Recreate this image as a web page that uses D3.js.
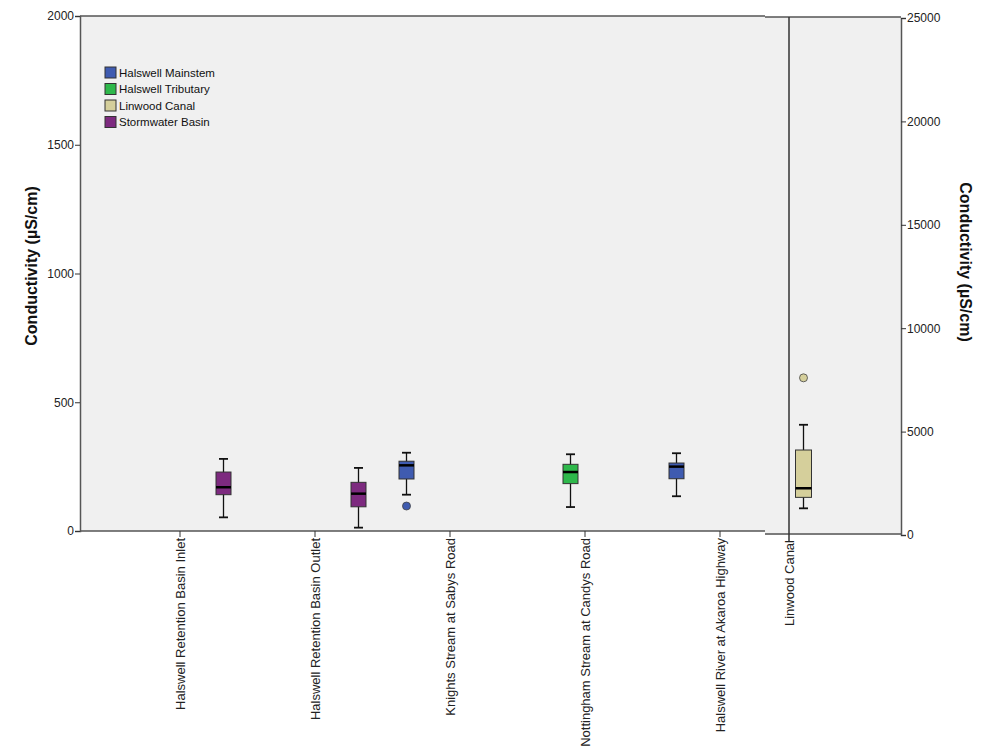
<!DOCTYPE html>
<html><head><meta charset="utf-8">
<script src="https://cdn.jsdelivr.net/npm/d3@7"></script>
<style>body{margin:0;background:#fff;}svg{display:block;font-family:"Liberation Sans",Arial,sans-serif;}</style>
</head><body>
<svg id="c" width="984" height="747"></svg>
<script>
const sitesLeft = ["Halswell Retention Basin Inlet","Halswell Retention Basin Outlet","Knights Stream at Sabys Road","Nottingham Stream at Candys Road","Halswell River at Akaroa Highway"];
const siteRight = ["Linwood Canal"];
const groups = ["Halswell Mainstem","Halswell Tributary","Linwood Canal","Stormwater Basin"];
const groupColors = ["#3f5bb0","#2eb84b","#d5cf9b","#7d2a7f"];
const leftTicks = [0,500,1000,1500,2000];
const rightTicks = [0,5000,10000,15000,20000,25000];
// box stats: site, group, whisker low, q1, median, q3, whisker high, outliers
const boxSite   = ["Halswell Retention Basin Inlet","Halswell Retention Basin Outlet","Knights Stream at Sabys Road","Nottingham Stream at Candys Road","Halswell River at Akaroa Highway","Linwood Canal"];
const boxGroup  = ["Stormwater Basin","Stormwater Basin","Halswell Mainstem","Halswell Tributary","Halswell Mainstem","Linwood Canal"];
const boxLow    = [53, 13, 141, 93, 135, 1290];
const boxQ1     = [141, 94, 202, 184, 203, 1820];
const boxMed    = [170, 145, 255, 229, 250, 2260];
const boxQ3     = [229, 189, 271, 259, 264, 4110];
const boxHigh   = [280, 245, 304, 298, 302, 5330];
const boxOut    = [[], [], [97], [], [], [7600]];

const svg = d3.select("#c");
const color = d3.scaleOrdinal().domain(groups).range(groupColors);
const FONT = "'Liberation Sans',Arial,sans-serif";

// scales
const xL = d3.scaleBand().domain(sitesLeft).range([112.5, 787.5]);
const xR = d3.scalePoint().domain(siteRight).range([789, 789]);
const sub = d3.scaleBand().domain(groups).range([-58, 58]);
const yL = d3.scaleLinear().domain([0,2000]).range([531,16]);
const yR = d3.scaleLinear().domain([0,25000]).range([535,18]);

// panels
svg.append("rect").attr("x",80).attr("y",16).attr("width",685).attr("height",515).attr("fill","#f0f0f0");
svg.append("rect").attr("x",765).attr("y",17).attr("width",136).attr("height",518).attr("fill","#f0f0f0");
const frame = "#555";
svg.append("line").attr("x1",80).attr("x2",765).attr("y1",16).attr("y2",16).attr("stroke",frame).attr("stroke-width",1.5);
svg.append("line").attr("x1",765).attr("x2",901).attr("y1",17).attr("y2",17).attr("stroke",frame).attr("stroke-width",1.5);
svg.append("line").attr("x1",80).attr("x2",765).attr("y1",531).attr("y2",531).attr("stroke",frame).attr("stroke-width",1.5);
svg.append("line").attr("x1",765).attr("x2",901).attr("y1",534).attr("y2",534).attr("stroke",frame).attr("stroke-width",1.5);
svg.append("line").attr("x1",789).attr("x2",789).attr("y1",17).attr("y2",541).attr("stroke","#333").attr("stroke-width",1.5);

// left axis
const gl = svg.append("g").attr("transform","translate(80,0)")
  .call(d3.axisLeft(yL).tickValues(leftTicks).tickSize(5).tickFormat(d3.format("d")));
// right axis
const gr = svg.append("g").attr("transform","translate(901,0)")
  .call(d3.axisRight(yR).tickValues(rightTicks).tickSize(5).tickFormat(d3.format("d")));
[gl,gr].forEach(g=>{
  g.select(".domain").attr("stroke",frame).attr("stroke-width",1.5);
  g.selectAll(".tick line").attr("stroke","#333");
  g.selectAll("text").attr("font-size",12).attr("fill","#222").attr("font-family",FONT);
});
gl.selectAll("text").attr("x",-6);
gr.selectAll("text").attr("x",6);

// bottom axis (left panel)
const gb = svg.append("g").attr("transform","translate(0,531)")
  .call(d3.axisBottom(xL).tickSize(6));
gb.select(".domain").remove();
gb.selectAll(".tick line").attr("stroke","#333");
gb.selectAll("text").attr("transform","rotate(-90)").attr("x",-7).attr("y",0).attr("dy","0.35em")
  .attr("text-anchor","end").attr("font-size",13).attr("fill","#222").attr("font-family",FONT);
svg.append("text").attr("transform",`translate(${xR("Linwood Canal")},540) rotate(-90)`)
  .attr("dy","0.35em").attr("text-anchor","end").attr("font-size",13).attr("fill","#222").text("Linwood Canal");

// titles
svg.append("text").attr("transform","translate(31,266) rotate(-90)").attr("text-anchor","middle").attr("dy","0.35em")
  .attr("font-size",16).attr("font-weight","bold").attr("fill","#111").text("Conductivity (µS/cm)");
svg.append("text").attr("transform","translate(966,262) rotate(90)").attr("text-anchor","middle").attr("dy","0.35em")
  .attr("font-size",16).attr("font-weight","bold").attr("fill","#111").text("Conductivity (µS/cm)");

// boxes
const bw = 15, capw = 9;
boxSite.forEach((s,i)=>{
  const right = siteRight.includes(s);
  const y = right ? yR : yL;
  const cx = right ? xR(s) + sub(boxGroup[i]) + sub.bandwidth()/2
                   : xL(s) + xL.bandwidth()/2 + sub(boxGroup[i]) + sub.bandwidth()/2;
  const w = right ? 16 : bw;
  const g = svg.append("g");
  g.append("line").attr("x1",cx).attr("x2",cx).attr("y1",y(boxLow[i])).attr("y2",y(boxHigh[i])).attr("stroke","#111").attr("stroke-width",1.3);
  [boxLow[i],boxHigh[i]].forEach(v=>g.append("line").attr("x1",cx-capw/2).attr("x2",cx+capw/2).attr("y1",y(v)).attr("y2",y(v)).attr("stroke","#111").attr("stroke-width",1.8));
  g.append("rect").attr("x",cx-w/2).attr("y",y(boxQ3[i])).attr("width",w).attr("height",y(boxQ1[i])-y(boxQ3[i]))
    .attr("fill",color(boxGroup[i])).attr("stroke","#333").attr("stroke-width",1);
  g.append("line").attr("x1",cx-w/2).attr("x2",cx+w/2).attr("y1",y(boxMed[i])).attr("y2",y(boxMed[i])).attr("stroke","#000").attr("stroke-width",2.5);
  boxOut[i].forEach(v=>g.append("circle").attr("cx",cx).attr("cy",y(v)).attr("r",4).attr("fill",color(boxGroup[i])).attr("stroke","#444").attr("stroke-width",0.8));
});

// legend
const lg = svg.append("g").attr("transform","translate(105,67)");
groups.forEach((gname,i)=>{
  lg.append("rect").attr("x",0).attr("y",i*16.5).attr("width",11).attr("height",11)
    .attr("fill",color(gname)).attr("stroke","#333").attr("stroke-width",1);
  lg.append("text").attr("x",14).attr("y",i*16.5+5.5).attr("dy","0.35em").attr("font-size",11.5).attr("fill","#111").attr("font-family",FONT).text(gname);
});
</script>
</body></html>
